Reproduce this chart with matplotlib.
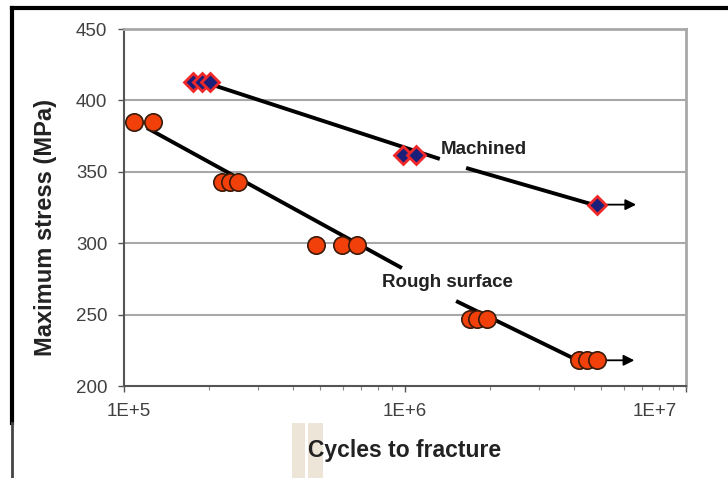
import numpy as np
import matplotlib.pyplot as plt
from matplotlib.patches import Rectangle
from matplotlib.lines import Line2D
from matplotlib.transforms import ScaledTranslation

# data
mach_cycles = [1.76e5, 1.90e5, 2.02e5, 9.8e5, 1.09e6, 4.82e6]
mach_stress = [413, 413, 413, 362, 362, 327]

rough_cycles = [1.087e5, 1.27e5, 2.23e5, 2.38e5, 2.55e5, 4.82e5, 5.97e5, 6.75e5,
                1.70e6, 1.80e6, 1.96e6, 4.16e6, 4.45e6, 4.82e6]
rough_stress = [385, 385, 343, 343, 343, 299, 299, 299, 247, 247, 247, 218, 218, 218]

# trend lines, broken where the labels sit
mach_trend1_x = [2.07e5, 1.33e6]
mach_trend1_y = [410.8, 359.0]
mach_trend2_x = [1.65e6, 4.71e6]
mach_trend2_y = [352.7, 326.8]
rough_trend1_x = [1.207e5, 9.75e5]
rough_trend1_y = [380.7, 282.6]
rough_trend2_x = [1.52e6, 4.16e6]
rough_trend2_y = [259.5, 217.5]

# run-out arrows
mach_arrow_end = 6.8e6
rough_arrow_end = 6.7e6

yticks = [200, 250, 300, 350, 400, 450]
xticks = [1e5, 1e6, 1e7]
xticklabels = ['1E+5', '1E+6', '1E+7']

plt.rcParams['font.family'] = ['Liberation Sans', 'DejaVu Sans']

fig = plt.figure(figsize=(7.28, 4.78), dpi=100)
ax = fig.add_axes([124 / 728, 1 - 386 / 478, (686 - 124) / 728, (386 - 29) / 478])

ax.set_xscale('log')
ax.set_xlim(1e5, 1e7)
ax.set_ylim(200, 450)

# grid
for y in yticks[1:]:
    ax.axhline(y, color='#a8a8a8', lw=1.5, zorder=0)

# trend lines
for tx, ty in [(mach_trend1_x, mach_trend1_y), (mach_trend2_x, mach_trend2_y),
               (rough_trend1_x, rough_trend1_y), (rough_trend2_x, rough_trend2_y)]:
    ax.plot(tx, ty, color='black', lw=2.8, zorder=2, solid_capstyle='butt')

# arrows for run-outs
ax.annotate('', xy=(mach_arrow_end, mach_stress[-1]), xytext=(mach_cycles[-1], mach_stress[-1]),
            arrowprops=dict(arrowstyle='-|>', color='black', lw=1.3, mutation_scale=16), zorder=2)
ax.annotate('', xy=(rough_arrow_end, rough_stress[-1]), xytext=(rough_cycles[-1], rough_stress[-1]),
            arrowprops=dict(arrowstyle='-|>', color='black', lw=1.3, mutation_scale=16), zorder=2)

# markers
ax.plot(rough_cycles, rough_stress, 'o', ms=12.5, mfc='#f2400a', mec='#3a1a0a', mew=1.2,
        ls='none', zorder=3)
ax.plot(mach_cycles, mach_stress, 'D', ms=9.5, mfc='#1c1f7a', mec='#f0282a', mew=2.0,
        ls='none', zorder=3)

# labels on lines
ax.text(1.343e6, 365.3, 'Machined', fontsize=13.5, fontweight='bold', color='#222222',
        ha='left', va='center', zorder=4)
ax.text(8.28e5, 272.8, 'Rough surface', fontsize=13.5, fontweight='bold', color='#222222',
        ha='left', va='center', zorder=4)

# axes styling
ax.set_yticks(yticks)
ax.set_yticklabels([str(v) for v in yticks], fontsize=13.5, color='#404040')
ax.set_xticks(xticks)
ax.set_xticklabels(xticklabels, fontsize=13.5, color='#404040')
ax.tick_params(axis='y', length=4, width=1, color='#555555', pad=8)
ax.tick_params(axis='x', which='major', length=4, width=1, color='#555555', pad=8)
ax.tick_params(axis='x', which='minor', length=3, width=0.8, color='#888888')
ax.xaxis.set_minor_formatter(plt.NullFormatter())

# excel-style shifted end labels
xl = ax.get_xticklabels()
xl[0].set_transform(xl[0].get_transform() + ScaledTranslation(5 / 100, 0, fig.dpi_scale_trans))
xl[-1].set_transform(xl[-1].get_transform() + ScaledTranslation(-31 / 100, 0, fig.dpi_scale_trans))

for side in ['top', 'right']:
    ax.spines[side].set_color('#a8a8a8')
    ax.spines[side].set_linewidth(2)
for side in ['left', 'bottom']:
    ax.spines[side].set_color('#555555')
    ax.spines[side].set_linewidth(1.5)

ax.set_ylabel('Maximum stress (MPa)', fontsize=17, fontweight='bold', color='#222222')
ax.yaxis.set_label_coords(-0.119, 0.4426)
ax.set_xlabel('Cycles to fracture', fontsize=16.5, fontweight='bold', color='#222222', labelpad=14)

# outer frame of the screenshot and beige bits
fig.add_artist(Line2D([12 / 728, 1], [1 - 8 / 478, 1 - 8 / 478], color='black', lw=3))
fig.add_artist(Line2D([12 / 728, 12 / 728], [1 - 8 / 478, 1 - 423 / 478], color='black', lw=3))
fig.add_artist(Line2D([12 / 728, 12 / 728], [1 - 423 / 478, 0], color='#444444', lw=2))
fig.add_artist(Rectangle((292 / 728, 0), 13 / 728, 55 / 478, transform=fig.transFigure,
                         fc='#ece5d8', ec='none', zorder=-1))
fig.add_artist(Rectangle((308 / 728, 0), 15 / 728, 55 / 478, transform=fig.transFigure,
                         fc='#ece5d8', ec='none', zorder=-1))

fig.savefig('out.png', dpi=100)
